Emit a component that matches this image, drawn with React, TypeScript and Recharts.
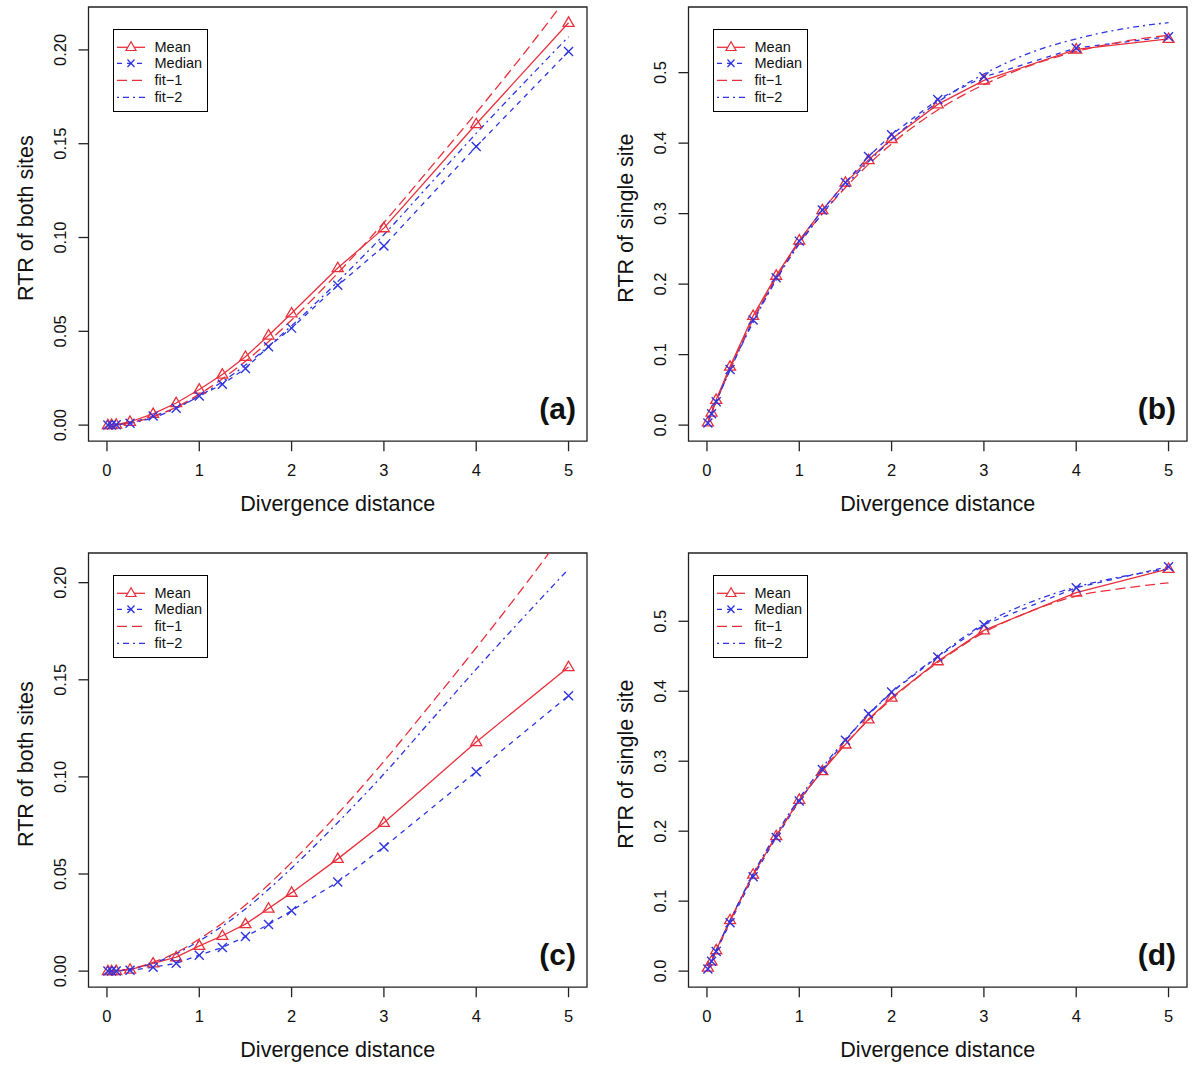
import React from 'react';
import { LineChart, Line, XAxis, YAxis, ReferenceArea, Legend } from 'recharts';

const RED = '#e8303c';
const BLUE = '#2f34e0';
const FONT = '"Liberation Sans", Arial, Helvetica, sans-serif';

// divergence distances used in the simulations
const distances = [0.01, 0.05, 0.1, 0.25, 0.5, 0.75, 1, 1.25, 1.5, 1.75, 2, 2.5, 3, 4, 5];
const xTicks = [0, 1, 2, 3, 4, 5];
const bothTicks = [0, 0.05, 0.1, 0.15, 0.2];
const singleTicks = [0, 0.1, 0.2, 0.3, 0.4, 0.5];

// (a) RTR of both sites
const meanA = [0.0, 0.0001, 0.0003, 0.0018, 0.006, 0.0118, 0.019, 0.027, 0.0364, 0.0478, 0.0596, 0.0837, 0.105, 0.1605, 0.2145];
const medianA = [0.0, 0.0001, 0.0002, 0.001, 0.0048, 0.009, 0.0155, 0.0218, 0.0302, 0.0418, 0.0517, 0.0745, 0.0955, 0.1485, 0.1992];
// (b) RTR of single site
const meanB = [0.004, 0.018, 0.036, 0.083, 0.155, 0.212, 0.262, 0.305, 0.344, 0.376, 0.406, 0.455, 0.489, 0.533, 0.548];
const medianB = [0.003, 0.016, 0.033, 0.079, 0.149, 0.209, 0.261, 0.305, 0.344, 0.381, 0.412, 0.462, 0.494, 0.535, 0.551];
// (c) RTR of both sites
const meanC = [0.0, 0.0, 0.0001, 0.0008, 0.004, 0.0072, 0.013, 0.0182, 0.0242, 0.0322, 0.0404, 0.0578, 0.0764, 0.118, 0.1566];
const medianC = [0.0, 0.0, 0.0001, 0.0004, 0.002, 0.004, 0.0082, 0.0122, 0.0178, 0.024, 0.0311, 0.0459, 0.0639, 0.1027, 0.1418];
// (d) RTR of single site
const meanD = [0.005, 0.014, 0.03, 0.073, 0.138, 0.193, 0.245, 0.286, 0.324, 0.36, 0.391, 0.443, 0.487, 0.541, 0.575];
const medianD = [0.003, 0.014, 0.028, 0.069, 0.135, 0.191, 0.243, 0.288, 0.33, 0.368, 0.399, 0.449, 0.495, 0.548, 0.578];

// fitted curves
const fitGridBoth = [0, 0.25, 0.5, 0.75, 1, 1.5, 2, 2.5, 3, 3.5, 4, 4.5, 5];
const fit1Both = [0, 0.0012, 0.0045, 0.0095, 0.0165, 0.034, 0.056, 0.081, 0.108, 0.137, 0.1665, 0.197, 0.229];
const fit2Both = [0, 0.001, 0.004, 0.009, 0.0155, 0.032, 0.053, 0.0765, 0.1015, 0.1285, 0.1555, 0.1815, 0.207];
const fitGridSingle = [0, 0.1, 0.25, 0.5, 0.75, 1, 1.25, 1.5, 2, 2.5, 3, 3.5, 4, 4.5, 5];
const fit1B = [0, 0.034, 0.08, 0.15, 0.209, 0.259, 0.3, 0.337, 0.399, 0.447, 0.483, 0.51, 0.53, 0.544, 0.553];
const fit2B = [0, 0.033, 0.078, 0.146, 0.206, 0.257, 0.3, 0.339, 0.405, 0.458, 0.498, 0.528, 0.548, 0.562, 0.571];
const fit1D = [0, 0.029, 0.071, 0.137, 0.193, 0.244, 0.287, 0.325, 0.389, 0.441, 0.484, 0.514, 0.536, 0.547, 0.555];
const fit2D = [0, 0.03, 0.072, 0.139, 0.196, 0.247, 0.291, 0.331, 0.398, 0.45, 0.496, 0.527, 0.549, 0.564, 0.575];

const pair = (xs: number[], ys: number[]) => xs.map((x, i) => ({ x, y: ys[i] }));

// layout of one panel (chart-local px)
const CHART_W = 600;
const CHART_H = 520;
const PLOT_LEFT = 88.5;
const PLOT_TOP = 7;
const PLOT_W = 498.5;
const PLOT_H = 434.2;
const PLOT_BOTTOM = PLOT_TOP + PLOT_H;

const Triangle = (props: any) => {
  const { cx, cy, index } = props;
  if (cx == null || cy == null) return <g key={`t-${index}`} />;
  return (
    <path
      key={`t-${index}`}
      d={`M${cx},${cy - 5.8}L${cx - 5.5},${cy + 3.6}L${cx + 5.5},${cy + 3.6}Z`}
      fill="none"
      stroke={RED}
      strokeWidth={1.3}
    />
  );
};

const Cross = (props: any) => {
  const { cx, cy, index } = props;
  if (cx == null || cy == null) return <g key={`c-${index}`} />;
  const r = 4.5;
  return (
    <path
      key={`c-${index}`}
      d={`M${cx - r},${cy - r}L${cx + r},${cy + r}M${cx - r},${cy + r}L${cx + r},${cy - r}`}
      stroke={BLUE}
      strokeWidth={1.4}
    />
  );
};

const LegendBox = () => {
  const rows = [
    { name: 'Mean', color: RED, dash: undefined, mark: 'tri' },
    { name: 'Median', color: BLUE, dash: '5 5', mark: 'x' },
    { name: 'fit\u22121', color: RED, dash: '10 5' },
    { name: 'fit\u22122', color: BLUE, dash: '2 4 6 4' },
  ];
  return (
    <div
      style={{
        border: '1.3px solid #000',
        background: '#fff',
        width: 93,
        height: 81,
        boxSizing: 'content-box',
        fontFamily: FONT,
        fontSize: 14.5,
        color: '#111',
      }}
    >
      {rows.map((r, i) => (
        <div key={r.name} style={{ position: 'relative', height: 16.7, marginTop: i === 0 ? 8.5 : 0 }}>
          <svg width={34} height={16.7} style={{ position: 'absolute', left: 2, top: 0 }}>
            <line x1={1} x2={29} y1={8.3} y2={8.3} stroke={r.color} strokeWidth={1.3} strokeDasharray={r.dash} />
            {r.mark === 'tri' && (
              <path d="M15,2.8L10,11.5L20,11.5Z" fill="#fff" stroke={r.color} strokeWidth={1.2} />
            )}
            {r.mark === 'x' && <path d="M11.5,4.5L18.5,12M11.5,12L18.5,4.5" stroke={r.color} strokeWidth={1.3} />}
          </svg>
          <span style={{ position: 'absolute', left: 41, top: 0, lineHeight: '16.7px' }}>{r.name}</span>
        </div>
      ))}
    </div>
  );
};

interface PanelProps {
  tag: string;
  yTitle: string;
  top: number;
  yTicks: number[];
  digits: number;
  mean: number[];
  median: number[];
  fitXs: number[];
  fit1: number[];
  fit2: number[];
}

const Panel = ({ tag, yTitle, top, yTicks, digits, mean, median, fitXs, fit1, fit2 }: PanelProps) => {
  const yDomain = [-0.04 * top, 1.04 * top];
  const xDomain = [-0.2, 5.2];
  const titleY = PLOT_TOP + PLOT_H / 2 - 6;
  return (
    <LineChart width={CHART_W} height={CHART_H} margin={{ top: PLOT_TOP, right: CHART_W - PLOT_LEFT - PLOT_W, left: 0, bottom: 0 }}>
      <XAxis
        type="number"
        dataKey="x"
        domain={xDomain}
        ticks={xTicks}
        allowDataOverflow
        height={CHART_H - PLOT_BOTTOM}
        axisLine={false}
        tickSize={10}
        tickLine={{ stroke: '#222', strokeWidth: 1.3 }}
        tick={(p: any) => (
          <text x={p.x} y={PLOT_BOTTOM + 35} textAnchor="middle" fontSize={16.5} fontFamily={FONT} fill="#111">
            {String(p.payload.value)}
          </text>
        )}
        label={() => (
          <text x={PLOT_LEFT + PLOT_W / 2} y={PLOT_BOTTOM + 70} textAnchor="middle" fontSize={21.5} fontFamily={FONT} fill="#111">
            Divergence distance
          </text>
        )}
      />
      <YAxis
        type="number"
        domain={yDomain}
        ticks={yTicks}
        allowDataOverflow
        width={PLOT_LEFT}
        axisLine={false}
        tickSize={10}
        tickLine={{ stroke: '#222', strokeWidth: 1.3 }}
        tick={(p: any) => {
          const bx = PLOT_LEFT - 22.5;
          return (
            <text x={bx} y={p.y} transform={`rotate(-90 ${bx} ${p.y})`} textAnchor="middle" fontSize={16.5} fontFamily={FONT} fill="#111">
              {Number(p.payload.value).toFixed(digits)}
            </text>
          );
        }}
        label={() => (
          <text
            x={33}
            y={titleY}
            transform={`rotate(-90 33 ${titleY})`}
            textAnchor="middle"
            fontSize={21.5}
            fontFamily={FONT}
            fill="#111"
          >
            {yTitle}
          </text>
        )}
      />
      <Line data={pair(distances, mean)} dataKey="y" type="linear" stroke={RED} strokeWidth={1.3} dot={Triangle} activeDot={false} isAnimationActive={false} />
      <Line data={pair(distances, median)} dataKey="y" type="linear" stroke={BLUE} strokeWidth={1.3} strokeDasharray="5 5" dot={Cross} activeDot={false} isAnimationActive={false} />
      <Line data={pair(fitXs, fit1)} dataKey="y" type="monotone" stroke={RED} strokeWidth={1.3} strokeDasharray="10 5" dot={false} activeDot={false} isAnimationActive={false} />
      <Line data={pair(fitXs, fit2)} dataKey="y" type="monotone" stroke={BLUE} strokeWidth={1.3} strokeDasharray="2 4 6 4" dot={false} activeDot={false} isAnimationActive={false} />
      <ReferenceArea
        x1={xDomain[0]}
        x2={xDomain[1]}
        y1={yDomain[0]}
        y2={yDomain[1]}
        fill="none"
        stroke="#222"
        strokeWidth={1.3}
        ifOverflow="visible"
        label={() => (
          <text x={PLOT_LEFT + PLOT_W - 11} y={PLOT_BOTTOM - 22} textAnchor="end" fontSize={30} fontWeight="bold" fontFamily={FONT} fill="#111">
            {tag}
          </text>
        )}
      />
      <Legend
        layout="vertical"
        align="center"
        verticalAlign="middle"
        content={() => <LegendBox />}
        wrapperStyle={{ left: PLOT_LEFT + 24, top: PLOT_TOP + 22, width: 'auto', height: 'auto' }}
      />
    </LineChart>
  );
};

const cells = [
  { left: 0, top: 0, tag: '(a)', yTitle: 'RTR of both sites', yTop: 0.2143, yTicks: bothTicks, digits: 2, mean: meanA, median: medianA, fitXs: fitGridBoth, fit1: fit1Both, fit2: fit2Both },
  { left: 600, top: 0, tag: '(b)', yTitle: 'RTR of single site', yTop: 0.5703, yTicks: singleTicks, digits: 1, mean: meanB, median: medianB, fitXs: fitGridSingle, fit1: fit1B, fit2: fit2B },
  { left: 0, top: 546.3, tag: '(c)', yTitle: 'RTR of both sites', yTop: 0.207, yTicks: bothTicks, digits: 2, mean: meanC, median: medianC, fitXs: fitGridBoth, fit1: fit1Both, fit2: fit2Both },
  { left: 600, top: 546.3, tag: '(d)', yTitle: 'RTR of single site', yTop: 0.5746, yTicks: singleTicks, digits: 1, mean: meanD, median: medianD, fitXs: fitGridSingle, fit1: fit1D, fit2: fit2D },
];

export default function App() {
  return (
    <div style={{ position: 'absolute', left: 0, top: 0, width: 1200, height: 1073, background: '#fff', overflow: 'hidden', fontFamily: FONT }}>
      {cells.map((c) => (
        <div key={c.tag} style={{ position: 'absolute', left: c.left, top: c.top }}>
          <Panel
            tag={c.tag}
            yTitle={c.yTitle}
            top={c.yTop}
            yTicks={c.yTicks}
            digits={c.digits}
            mean={c.mean}
            median={c.median}
            fitXs={c.fitXs}
            fit1={c.fit1}
            fit2={c.fit2}
          />
        </div>
      ))}
    </div>
  );
}
